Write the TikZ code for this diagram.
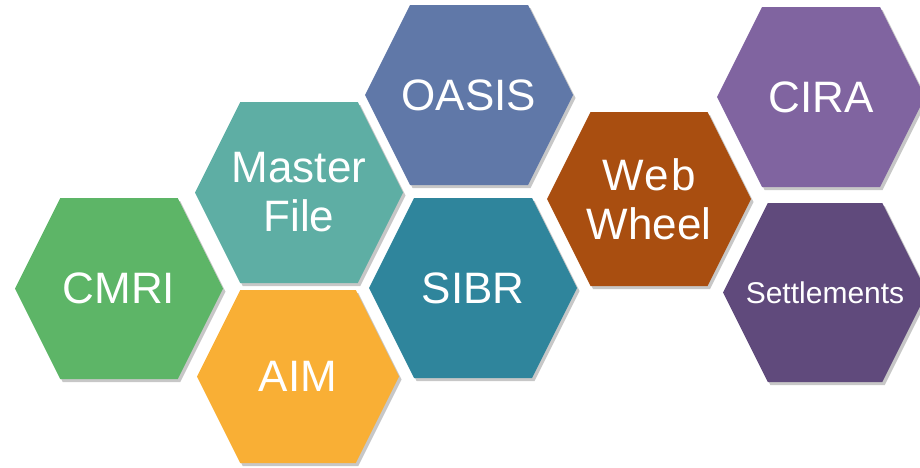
\documentclass[tikz,border=0pt]{standalone}
\usepackage{fontspec}
\setmainfont{Liberation Sans}
\usetikzlibrary{positioning,calc,shadows,backgrounds}

\definecolor{cmrigreen}{HTML}{5DB567}
\definecolor{masterteal}{HTML}{5EAEA4}
\definecolor{aimorange}{HTML}{F9AF35}
\definecolor{oasisblue}{HTML}{6078A8}
\definecolor{sibrblue}{HTML}{2F859C}
\definecolor{webbrown}{HTML}{A94E10}
\definecolor{ciraviolet}{HTML}{8064A0}
\definecolor{settlepurple}{HTML}{604A7C}

% hexagon round a named node: name, colour, half width, half height
\newcommand{\hexcell}[4]{%
  \fill[#2, hexshadow]
    ($(#1)+(-#3,0)$) -- ($(#1)+(-#3+#4/2,-#4)$) -- ($(#1)+(#3-#4/2,-#4)$) --
    ($(#1)+(#3,0)$) -- ($(#1)+(#3-#4/2,#4)$) -- ($(#1)+(-#3+#4/2,#4)$) -- cycle;}

\begin{document}
\begin{tikzpicture}[x=1pt, y=-1pt,
  hextext/.style={text=white, align=center, inner sep=0pt, font=\fontsize{44}{49}\selectfont},
  hexshadow/.style={drop shadow={shadow xshift=2.5pt, shadow yshift=-3pt, opacity=0.22, fill=black}}]
  \useasboundingbox (0,0) rectangle (920,467);

  \node (cmri) [hextext] at (119,288.5) {CMRI};
  \node (master) [hextext] at (299,192.5) {Master\\File};
  \node (aim) [hextext] at (298,376.5) {AIM};
  \node (oasis) [hextext] at (469,95) {OASIS};
  \node (sibr) [hextext] at (473,288) {SIBR};
  \node (web) [hextext] at (649,199) {\addfontfeature{LetterSpace=4}Web\\Wheel};
  \node (cira) [hextext] at (821,97) {CIRA};
  \node (settle) [hextext, font=\fontsize{30}{34}\selectfont] at (825,292.5) {Settlements};

  \begin{scope}[on background layer]
    \hexcell{cmri}{cmrigreen}{104}{90.5}
    \hexcell{master}{masterteal}{104}{90.5}
    \hexcell{aim}{aimorange}{101}{86.5}
    \hexcell{oasis}{oasisblue}{104}{90}
    \hexcell{sibr}{sibrblue}{104}{90}
    \hexcell{web}{webbrown}{102}{87}
    \hexcell{cira}{ciraviolet}{104}{90}
    \hexcell{settle}{settlepurple}{102}{89.5}
  \end{scope}
\end{tikzpicture}
\end{document}
